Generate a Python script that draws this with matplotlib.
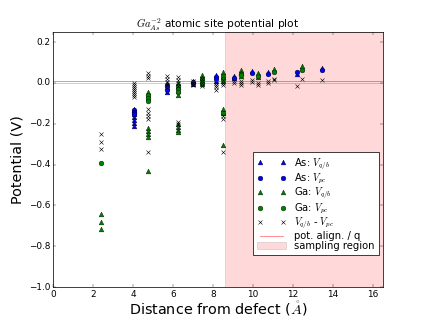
import matplotlib
matplotlib.use("Agg")
import matplotlib.pyplot as plt

plt.style.use("classic")

# ---- data (distance shell -> potential values, V) ----
as_vqb = {4.06: [-0.13, -0.15, -0.165, -0.18, -0.195, -0.21],
          5.72: [0.0, -0.02, -0.045],
          7.02: [0.01, -0.005],
          8.16: [0.04, 0.01],
          9.08: [0.035, 0.025],
          9.95: [0.06],
          10.75: [0.055],
          12.2: [0.045],
          13.49: [0.075]}
as_vpc = {4.06: [-0.135, -0.14, -0.145, -0.15],
          5.72: [-0.015, -0.035],
          7.02: [0.005, 0.0],
          8.16: [0.03, 0.02],
          9.08: [0.025],
          9.95: [0.05],
          10.75: [0.045],
          12.2: [0.055],
          13.49: [0.063]}
ga_vqb = {2.39: [-0.642, -0.68, -0.717],
          4.73: [-0.045, -0.06, -0.075, -0.22, -0.235, -0.25, -0.265, -0.43],
          6.27: [0.0, -0.02, -0.04, -0.06, -0.2, -0.215, -0.23, -0.24],
          7.47: [0.04, 0.025, 0.01, -0.005],
          8.5: [0.055, 0.03, 0.01, -0.13, -0.145, -0.305],
          9.41: [0.065, 0.05, 0.035],
          10.28: [0.05, 0.03],
          11.07: [0.07],
          12.46: [0.085]}
ga_vpc = {2.39: [-0.393],
          4.73: [-0.06, -0.075, -0.09],
          6.27: [-0.015, -0.03, -0.045],
          7.47: [0.02, 0.0],
          8.5: [0.035, 0.02, -0.146],
          9.41: [0.045, 0.04],
          10.28: [0.035],
          11.07: [0.055],
          12.46: [0.065]}
diff = {2.39: [-0.25, -0.288, -0.325],
        4.06: [0.0, -0.01, -0.02, -0.03, -0.04, -0.05, -0.06, -0.07],
        4.73: [0.048, 0.036, 0.024, -0.13, -0.145, -0.16, -0.175, -0.34],
        5.72: [0.035, 0.02, 0.005, -0.01],
        6.27: [0.03, 0.015, 0.0, -0.015, -0.19, -0.2],
        7.02: [0.01, 0.0, -0.01],
        7.47: [0.02, 0.01, 0.0, -0.015],
        8.16: [0.0, -0.01, -0.02, -0.035],
        8.5: [0.015, 0.0, -0.01, -0.16, -0.175, -0.337],
        9.08: [0.008, 0.0],
        9.41: [0.01, 0.0, -0.01],
        9.95: [0.012, 0.005],
        10.28: [0.0, -0.01],
        10.75: [0.01, 0.0],
        11.07: [0.02, 0.012],
        12.2: [-0.013],
        12.46: [0.017],
        13.49: [0.012]}
pot_align = 0.008
sampling_start = 8.63
x_max = 16.5


def flat(d):
    xs, ys = [], []
    for k, vals in d.items():
        for v in vals:
            xs.append(k)
            ys.append(v)
    return xs, ys


fig = plt.figure(figsize=(8, 6.005), dpi=53.125)
ax = fig.add_subplot(111)

ax.axvspan(sampling_start, x_max, facecolor='r', alpha=0.15, label='sampling region')
ax.axhline(0, color='k', alpha=0.25, lw=1)

ms = 6.5
x, y = flat(as_vqb)
ax.plot(x, y, '^', color='b', mec='k', mew=0.5, ms=ms, label=r'As: $V_{q/b}$')
x, y = flat(as_vpc)
ax.plot(x, y, 'o', color='b', mec='k', mew=0.5, ms=ms, label=r'As: $V_{pc}$')
x, y = flat(ga_vqb)
ax.plot(x, y, '^', color='g', mec='k', mew=0.5, ms=ms, label=r'Ga: $V_{q/b}$')
x, y = flat(ga_vpc)
ax.plot(x, y, 'o', color='g', mec='k', mew=0.5, ms=ms, label=r'Ga: $V_{pc}$')
x, y = flat(diff)
ax.plot(x, y, 'x', color='k', mew=0.8, ms=ms, label=r'$V_{q/b}$ - $V_{pc}$')
ax.axhline(pot_align, color='r', alpha=0.6, lw=1, label='pot. align. / q')

ax.set_xlim(0, x_max)
ax.set_ylim(-1.0, 0.25)
ax.set_xticks(range(0, 17, 2))
ax.set_yticks([-1.0, -0.8, -0.6, -0.4, -0.2, 0.0, 0.2])
ax.tick_params(labelsize=12)

ax.set_xlabel(r'Distance from defect ($\mathring{A}$)', fontsize=19.5, labelpad=1)
ax.set_ylabel('Potential (V)', fontsize=19.5)
ax.set_title(r'$Ga_{As}^{-2}$ atomic site potential plot', fontsize=14.4)

handles, labels = ax.get_legend_handles_labels()
order = [1, 2, 3, 4, 5, 6, 0]
ax.legend([handles[i] for i in order], [labels[i] for i in order],
          loc='lower right', bbox_to_anchor=(0.988, 0.1245), borderaxespad=0,
          numpoints=2, fontsize=13.5, labelspacing=0.0, borderpad=0.4,
          handlelength=2.9, handletextpad=0.8)

fig.savefig('out.png', dpi=53.125)
